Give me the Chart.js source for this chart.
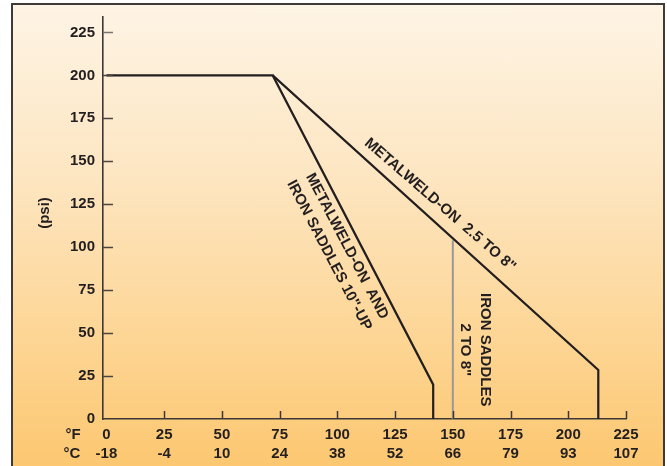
<!DOCTYPE html>
<html>
<head>
<meta charset="utf-8">
<script src="https://cdn.jsdelivr.net/npm/chart.js@4/dist/chart.umd.min.js"></script>
<style>
  html,body{margin:0;padding:0;background:#fff;width:667px;height:466px;overflow:hidden;}
  #frame{position:absolute;left:11px;top:3px;width:650px;height:480px;
    border:2px solid #3d3a38;border-bottom:none;
    background:linear-gradient(to bottom,#fef4e5 0%,#fde6c2 35%,#fdd594 70%,#fcc56b 100%);}
  #c{position:absolute;left:0;top:0;}
</style>
</head>
<body>
<div id="frame"></div>
<canvas id="c" width="667" height="466"></canvas>
<script>
// ---- data ----
const fahrenheitTicks = [0, 25, 50, 75, 100, 125, 150, 175, 200, 225];
const celsiusTicks = ['-18', '-4', '10', '24', '38', '52', '66', '79', '93', '107'];
const psiTicks = [0, 25, 50, 75, 100, 125, 150, 175, 200, 225];

// Metal weld-on and iron saddles 10"-up
const tenUpTemp = [0, 72, 141.5, 141.5];
const tenUpPsi  = [200, 200, 20, 0];
// Metal weld-on 2.5 to 8"
const weldSmallTemp = [72, 213, 213];
const weldSmallPsi  = [200, 28.5, 0];
// Iron saddles 2 to 8"
const saddleTemp = [150, 150];
const saddlePsi  = [0, 104];

// annotation labels (anchored in data units)
const labelTexts = [
  ['METALWELD-ON  2.5 TO 8"'],
  ['METALWELD-ON  AND', 'IRON SADDLES 10"-UP'],
  ['IRON SADDLES', '2 TO 8"']
];
const labelTemp = [144.5, 100.3, 159.6];
const labelPsi  = [124.6, 97.9, 40.3];
const labelAngle = [41, 62.5, 90];

const INK = '#231f20';
const toPts = (xs, ys) => xs.map((x, i) => ({x: x, y: ys[i]}));

Chart.defaults.font.family = "'Liberation Sans', Arial, Helvetica, sans-serif";
Chart.defaults.font.weight = 'bold';
Chart.defaults.color = INK;

const decor = {
  id: 'decor',
  afterDraw(chart) {
    const ctx = chart.ctx, xs = chart.scales.x, ys = chart.scales.y;
    const x0 = xs.left, yb = ys.getPixelForValue(0);
    ctx.save();
    // inward tick marks on y axis
    ctx.lineWidth = 1.5;
    psiTicks.forEach(v => {
      if (v === 0) return;
      const y = Math.round(ys.getPixelForValue(v)) + 0.5;
      ctx.strokeStyle = v === 225 ? '#7a7470' : '#4a4442';
      ctx.beginPath(); ctx.moveTo(x0, y); ctx.lineTo(x0 + 10, y); ctx.stroke();
    });
    // inward tick marks on x axis
    ctx.strokeStyle = '#3d3836';
    fahrenheitTicks.forEach(v => {
      if (v === 0) return;
      const x = Math.round(xs.getPixelForValue(v)) + 0.5;
      ctx.beginPath(); ctx.moveTo(x, yb); ctx.lineTo(x, yb - 8); ctx.stroke();
    });
    // unit row headers
    ctx.fillStyle = INK;
    ctx.font = "bold 15px 'Liberation Sans', Arial, sans-serif";
    ctx.textAlign = 'center'; ctx.textBaseline = 'middle';
    ctx.fillText('°F', 73, yb + 16);
    ctx.fillText('°C', 72, yb + 35);
    // y axis title
    ctx.save();
    ctx.translate(45, 213); ctx.rotate(-Math.PI / 2);
    ctx.font = "bold 15px 'Liberation Sans', Arial, sans-serif";
    ctx.fillText('(psi)', 0, 0);
    ctx.restore();
    // rotated curve labels
    ctx.font = "bold 15px 'Liberation Sans', Arial, sans-serif";
    labelTexts.forEach((lines, i) => {
      const px = xs.getPixelForValue(labelTemp[i]);
      const py = ys.getPixelForValue(labelPsi[i]);
      ctx.save();
      ctx.translate(px, py);
      ctx.rotate(labelAngle[i] * Math.PI / 180);
      const lh = 20;
      const start = -(lines.length - 1) * lh / 2;
      lines.forEach((t, j) => ctx.fillText(t, 0, start + j * lh));
      ctx.restore();
    });
    ctx.restore();
  }
};

new Chart(document.getElementById('c'), {
  type: 'line',
  data: {
    datasets: [
      {data: toPts(tenUpTemp, tenUpPsi), borderColor: INK, borderWidth: 2.2},
      {data: toPts(weldSmallTemp, weldSmallPsi), borderColor: INK, borderWidth: 2.2},
      {data: toPts(saddleTemp, saddlePsi), borderColor: '#9a9896', borderWidth: 2}
    ]
  },
  options: {
    responsive: false,
    animation: false,
    devicePixelRatio: 1,
    layout: {padding: {left: 0, right: 41, top: 17, bottom: 0}},
    elements: {point: {radius: 0}, line: {tension: 0, fill: false, borderJoinStyle: 'miter'}},
    plugins: {legend: {display: false}, tooltip: {enabled: false}},
    scales: {
      x: {
        type: 'linear', min: -1.5, max: 225,
        afterBuildTicks: s => { s.ticks = fahrenheitTicks.map(v => ({value: v})); },
        afterFit: s => { s.height = 47; },
        grid: {display: false, drawTicks: false},
        border: {display: true, color: '#3d3836', width: 1.6},
        ticks: {
          padding: 6, maxRotation: 0, autoSkip: false,
          font: {size: 15, weight: 'bold', lineHeight: 1.27},
          color: INK,
          callback: (v) => {
            const i = fahrenheitTicks.indexOf(v);
            return [String(fahrenheitTicks[i]), celsiusTicks[i]];
          }
        }
      },
      y: {
        type: 'linear', min: 0, max: 234,
        afterBuildTicks: s => { s.ticks = psiTicks.map(v => ({value: v})); },
        afterFit: s => { s.width = 103; },
        grid: {display: false, drawTicks: false},
        border: {display: true, color: '#3d3836', width: 1.6},
        ticks: {padding: 8, font: {size: 15, weight: 'bold'}, color: INK}
      }
    }
  },
  plugins: [decor]
});
</script>
</body>
</html>
